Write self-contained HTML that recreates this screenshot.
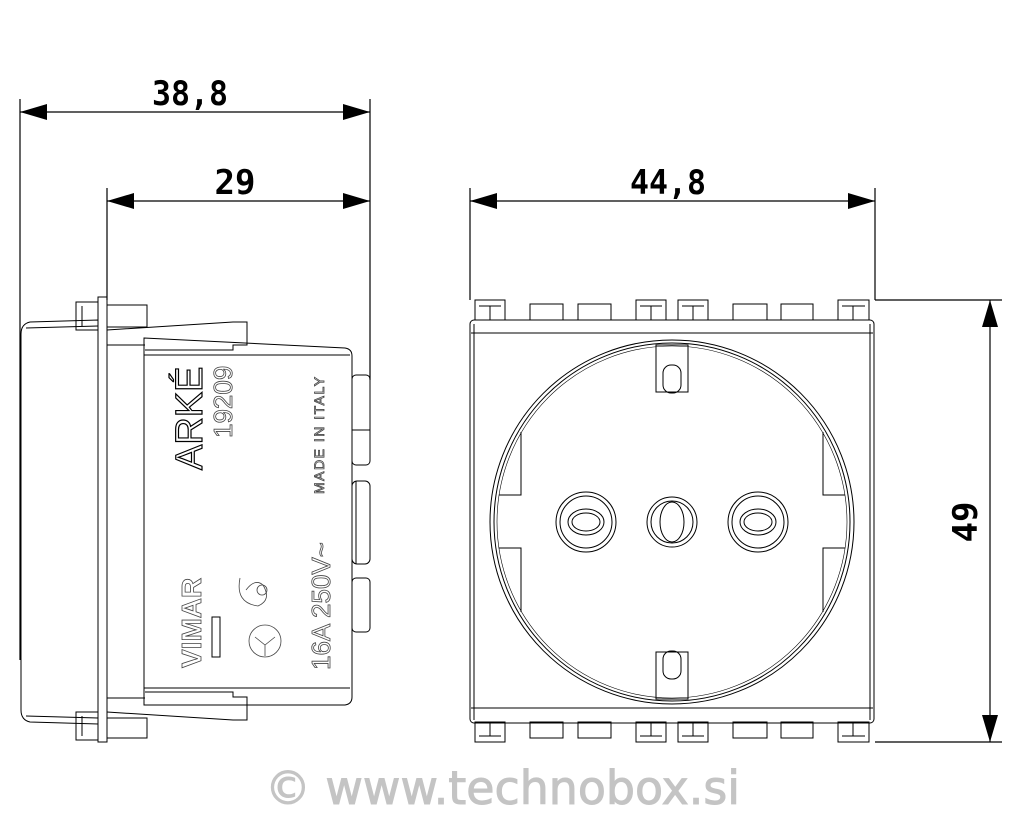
<!DOCTYPE html>
<html><head><meta charset="utf-8"><style>
html,body{margin:0;padding:0;background:#fff}
svg{display:block}
.d{font-family:"DejaVu Sans Mono","Liberation Mono",monospace;font-size:34px;fill:#000;font-weight:bold}
</style></head><body>
<svg width="1024" height="819" viewBox="0 0 1024 819" xmlns="http://www.w3.org/2000/svg">
<g stroke="#000" stroke-width="1.2" fill="none">
<line x1="20" y1="99" x2="20" y2="660"/>
<line x1="370" y1="99" x2="370" y2="380"/>
<line x1="107" y1="188" x2="107" y2="300"/>
<line x1="470" y1="188" x2="470" y2="300"/>
<line x1="875" y1="188" x2="875" y2="300"/>
<line x1="875" y1="300" x2="1002" y2="300"/>
<line x1="875" y1="742" x2="1002" y2="742"/>
<line x1="20" y1="112" x2="370" y2="112"/>
<line x1="107" y1="201" x2="370" y2="201"/>
<line x1="470" y1="201" x2="875" y2="201"/>
<line x1="990" y1="300" x2="990" y2="742"/>
</g>
<g fill="#000">
<polygon points="20,112 47,104 47,120"/><polygon points="370,112 343,104 343,120"/>
<polygon points="107,201 134,193 134,209"/><polygon points="370,201 343,193 343,209"/>
<polygon points="470,201 497,193 497,209"/><polygon points="875,201 848,193 848,209"/>
<polygon points="990,300 982,327 998,327"/><polygon points="990,742 982,715 998,715"/>
</g>
<text class="d" x="152" y="105" textLength="76" lengthAdjust="spacingAndGlyphs">38,8</text>
<text class="d" x="235" y="194" text-anchor="middle">29</text>
<text class="d" x="630" y="194" textLength="76" lengthAdjust="spacingAndGlyphs">44,8</text>
<text class="d" x="0" y="0" text-anchor="middle" transform="translate(977,522) rotate(-90)">49</text>

<!-- side view -->
<g stroke="#000" stroke-width="1" fill="none">
<path d="M30,322 L98,320 L98,724 L30,722 Q21,720 21,710 L21,334 Q21,324 30,322 Z"/>
<path d="M26,328 L98,326 M26,716 L98,718"/>
<rect x="98" y="297" width="9" height="445"/>
<rect x="76" y="302" width="22" height="28"/><rect x="76" y="712" width="22" height="28"/>
<line x1="82" y1="306" x2="82" y2="326"/><line x1="82" y1="716" x2="82" y2="736"/>
<rect x="107" y="305" width="40" height="22"/><rect x="107" y="718" width="40" height="20"/>
<path d="M107,330 L233,322 L247,322 L247,345 L233,345 L233,350 L145,350"/>
<path d="M107,712 L233,720 L247,720 L247,697 L233,697 L233,692 L145,692"/>
<line x1="107" y1="345" x2="145" y2="345"/><line x1="107" y1="698" x2="145" y2="698"/>
<path d="M144,338 L345,348 Q352,349 352,356 L352,697 Q352,704 345,705 L144,705 Z"/>
<line x1="144" y1="355" x2="350" y2="355"/><line x1="144" y1="688" x2="350" y2="688"/>
<rect x="352" y="375" width="18" height="90" rx="4"/><line x1="352" y1="430" x2="370" y2="430"/>
<rect x="352" y="481" width="18" height="83" rx="5"/><line x1="356" y1="481" x2="356" y2="564"/>
<rect x="352" y="578" width="18" height="54" rx="4"/>
<rect x="212" y="617" width="8" height="40"/>
</g>
<g font-family="Liberation Sans, sans-serif" fill="#fff" stroke="#444" stroke-width="0.8">
<text x="0" y="0" font-size="38" transform="translate(202,470) rotate(-90)" fill="none" stroke="#000" stroke-width="1.2">ARKÉ</text>
<text x="0" y="0" font-size="26" transform="translate(232,438) rotate(-90)">19209</text>
<text x="0" y="0" font-size="14" transform="translate(324,494) rotate(-90)" letter-spacing="1.5">MADE IN ITALY</text>
<text x="0" y="0" font-size="28" font-weight="bold" transform="translate(201,668) rotate(-90)">VIMAR</text>
<text x="0" y="0" font-size="26" transform="translate(330,670) rotate(-90)">16A  250V~</text>
</g>
<g stroke="#444" stroke-width="0.8" fill="none">
<circle cx="265" cy="641" r="16"/><path d="M255,637 L265,645 L275,637 M265,645 L265,656"/>
<path d="M240,578 Q235,603 258,606 Q272,600 263,585 Q255,578 246,590"/><circle cx="262" cy="590" r="5"/>
</g>

<!-- front view -->
<g stroke="#000" stroke-width="1" fill="none">
<g id="tabs">
<rect x="475" y="300" width="30" height="20"/><rect x="530" y="304" width="33" height="16"/>
<rect x="578" y="304" width="33" height="16"/><rect x="636" y="300" width="30" height="20"/>
<rect x="678" y="300" width="30" height="20"/><rect x="733" y="304" width="34" height="16"/>
<rect x="781" y="304" width="32" height="16"/><rect x="838" y="300" width="31" height="20"/>
</g>
<use href="#tabs" transform="translate(0,1042) scale(1,-1)"/>
<path d="M479,306 H501 M640,306 H662 M682,306 H704 M842,306 H865 M490,306 V320 M651,306 V320 M693,306 V320 M853,306 V320"/>
<path d="M479,736 H501 M640,736 H662 M682,736 H704 M842,736 H865 M490,722 V736 M651,722 V736 M693,722 V736 M853,722 V736"/>
<rect x="470" y="320" width="404" height="403" rx="4"/>
<line x1="471" y1="333" x2="873" y2="333"/><line x1="471" y1="708" x2="873" y2="708"/>
<line x1="474" y1="324" x2="474" y2="720"/><line x1="870" y1="324" x2="870" y2="720"/>
<ellipse cx="672" cy="522" rx="182" ry="182"/>
<ellipse cx="672" cy="522" rx="178" ry="179"/>
<ellipse cx="672" cy="522" rx="175" ry="176" stroke-width="0.6"/>
<path d="M521,432 L521,495 L499,495"/><path d="M521,612 L521,548 L499,548"/>
<path d="M823,432 L823,495 L845,495"/><path d="M823,612 L823,548 L845,548"/>
<rect x="656" y="345" width="32" height="47"/><rect x="663" y="365" width="18" height="28" rx="8"/>
<rect x="656" y="652" width="32" height="47"/><rect x="663" y="651" width="18" height="28" rx="8"/>
<circle cx="586" cy="522" r="30"/><circle cx="586" cy="522" r="26"/>
<ellipse cx="586" cy="522" rx="18" ry="13"/><ellipse cx="586" cy="522" rx="14" ry="9"/>
<circle cx="672" cy="522" r="25"/><circle cx="672" cy="522" r="21"/><ellipse cx="672" cy="522" rx="12" ry="20"/>
<circle cx="758" cy="522" r="30"/><circle cx="758" cy="522" r="26"/>
<ellipse cx="758" cy="522" rx="18" ry="13"/><ellipse cx="758" cy="522" rx="14" ry="9"/>
</g>

<text x="265" y="804" textLength="475" lengthAdjust="spacingAndGlyphs" font-family="DejaVu Sans, Liberation Sans, sans-serif" font-size="46" fill="#c4c4c4" stroke="#c4c4c4" stroke-width="1">© www.technobox.si</text>
</svg>
</body></html>
